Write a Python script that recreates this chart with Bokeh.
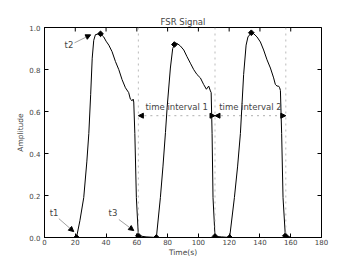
import numpy as np
from bokeh.plotting import figure
from bokeh.models import (Range1d, FixedTicker, PrintfTickFormatter,
                          Span, Arrow, NormalHead, Label)
from bokeh.embed import file_html
from bokeh.resources import INLINE

# ---- data ----
sig_t = [0, 10, 20.8, 23, 25.5, 27.5, 28.8, 30, 31, 32, 33.1, 34.5, 36.4, 38.5, 40, 41.8,
         43.9, 46.1, 48.3, 50.4, 52.6, 54.7, 55.8, 56.9, 57.6, 58.0, 58.7, 59.7, 61.0,
         66, 72.7, 75.3, 77, 78.6, 79.7, 81.8, 83.3, 84.4, 86, 88.3, 90.5, 92.6, 94.8,
         97, 99.1, 101.3, 103.4, 105.2, 106.7, 107.8, 108.3, 108.9, 109.5, 110.8,
         115, 120.3, 123.4, 125.5, 127.3, 129.4, 131, 132.2, 134.4, 136, 138.1, 140.3,
         142.4, 144.6, 146.8, 148.9, 150, 151.1, 152.1, 152.8, 153.3, 154.1, 155, 156.5, 160]
sig_v = [0.0, 0.0, 0.0, 0.08, 0.19, 0.36, 0.495, 0.68, 0.854, 0.939, 0.966, 0.968, 0.97, 0.955, 0.935, 0.916,
         0.885, 0.838, 0.799, 0.752, 0.713, 0.69, 0.659, 0.651, 0.659, 0.645, 0.495, 0.19, 0.008,
         0.003, 0.0, 0.19, 0.34, 0.5, 0.62, 0.807, 0.9, 0.919, 0.925, 0.912, 0.893, 0.861, 0.83,
         0.799, 0.776, 0.76, 0.729, 0.706, 0.721, 0.698, 0.69, 0.495, 0.19, 0.005,
         0.003, 0.0, 0.19, 0.34, 0.495, 0.776, 0.916, 0.955, 0.975, 0.97, 0.955, 0.931,
         0.893, 0.846, 0.807, 0.76, 0.729, 0.721, 0.721, 0.713, 0.70, 0.495, 0.19, 0.008, 0.002]

mk_t = [20.8, 36.4, 61.0, 72.7, 84.4, 110.8, 120.3, 134.4, 156.5]
mk_v = [0.0, 0.97, 0.008, 0.0, 0.919, 0.005, 0.0, 0.975, 0.008]

bounds = [61.0, 110.8, 156.8]
interval_labels = ["time interval 1", "time interval 2"]
interval_y = 0.58

point_labels = ["t1", "t2", "t3"]
label_xy = [(6.2, 0.117), (15.9, 0.917), (44.5, 0.115)]
arrow_start = [(9.3, 0.09), (19.5, 0.927), (48.3, 0.086)]
arrow_end = [(19.0, 0.028), (30.0, 0.965), (58.0, 0.033)]

x_ticks = [0, 20, 40, 60, 80, 100, 120, 140, 160, 180]
y_ticks = [0.0, 0.2, 0.4, 0.6, 0.8, 1.0]
X_MIN, X_MAX, Y_MIN, Y_MAX = 0, 180, 0.0, 1.0

FONT = "DejaVu Sans"

p = figure(width=349, height=259, output_backend="svg", toolbar_location=None,
           x_range=Range1d(X_MIN, X_MAX), y_range=Range1d(Y_MIN, Y_MAX),
           title="FSR Signal", x_axis_label="Time(s)", y_axis_label="Amplitude",
           min_border_left=44, min_border_right=28, min_border_top=27, min_border_bottom=4)

p.title.align = "center"
p.title.text_font = FONT
p.title.text_font_size = "8.5px"
p.title.text_font_style = "normal"
p.title.standoff = 2

p.xgrid.visible = False
p.ygrid.visible = False
p.outline_line_color = "black"
p.outline_line_width = 1
p.background_fill_color = "white"
p.border_fill_color = "white"

for ax, ticks in ((p.xaxis[0], x_ticks), (p.yaxis[0], y_ticks)):
    ax.ticker = FixedTicker(ticks=ticks)
    ax.major_tick_in = 4
    ax.major_tick_out = 0
    ax.minor_tick_line_color = None
    ax.major_label_text_font = FONT
    ax.major_label_text_font_size = "7px"
    ax.major_label_standoff = 2
    ax.axis_label_text_font = FONT
    ax.axis_label_text_font_size = "7.5px"
    ax.axis_label_text_font_style = "normal"
    ax.axis_label_standoff = 1
    ax.axis_line_color = "black"
p.yaxis[0].formatter = PrintfTickFormatter(format="%.1f")
p.yaxis[0].major_label_standoff = 4
p.yaxis[0].axis_label_standoff = 1
p.xaxis[0].major_label_standoff = 1
p.xaxis[0].axis_label_standoff = 0

# inward ticks on top and right edges (clipped to the frame)
p.scatter(x_ticks, [Y_MAX] * len(x_ticks), marker="dash", angle=np.pi / 2, size=8,
          line_color="black", line_width=1)
p.scatter([X_MAX] * len(y_ticks), y_ticks, marker="dash", size=8,
          line_color="black", line_width=1)

# vertical dotted lines
for b in bounds:
    p.add_layout(Span(location=b, dimension="height", line_color="#aaaaaa",
                      line_dash="dotted", line_width=0.8))

p.line(sig_t, sig_v, line_color="black", line_width=1)
p.scatter(mk_t, mk_v, marker="square", angle=np.pi / 4, size=4,
          fill_color="black", line_color="black")

# interval double arrows
for i in range(2):
    p.add_layout(Arrow(start=NormalHead(size=5, fill_color="black", line_color="black"),
                       end=NormalHead(size=5, fill_color="black", line_color="black"),
                       x_start=bounds[i], y_start=interval_y, x_end=bounds[i + 1], y_end=interval_y,
                       line_color="#999999", line_dash="dotted", line_width=0.8))
    p.add_layout(Label(x=(bounds[i] + bounds[i + 1]) / 2, y=interval_y + 0.04,
                       text=interval_labels[i], text_font=FONT, text_font_size="8.5px",
                       text_align="center", text_baseline="middle"))

# point annotations
for lab, (lx, ly), (sx, sy), (ex, ey) in zip(point_labels, label_xy, arrow_start, arrow_end):
    p.add_layout(Arrow(end=NormalHead(size=5, fill_color="black", line_color="black"),
                       x_start=sx, y_start=sy, x_end=ex, y_end=ey,
                       line_color="#888888", line_width=0.8))
    p.add_layout(Label(x=lx, y=ly, text=lab, text_font=FONT, text_font_size="8.5px",
                       text_align="center", text_baseline="middle"))

open("out.html", "w").write(file_html(p, INLINE))
